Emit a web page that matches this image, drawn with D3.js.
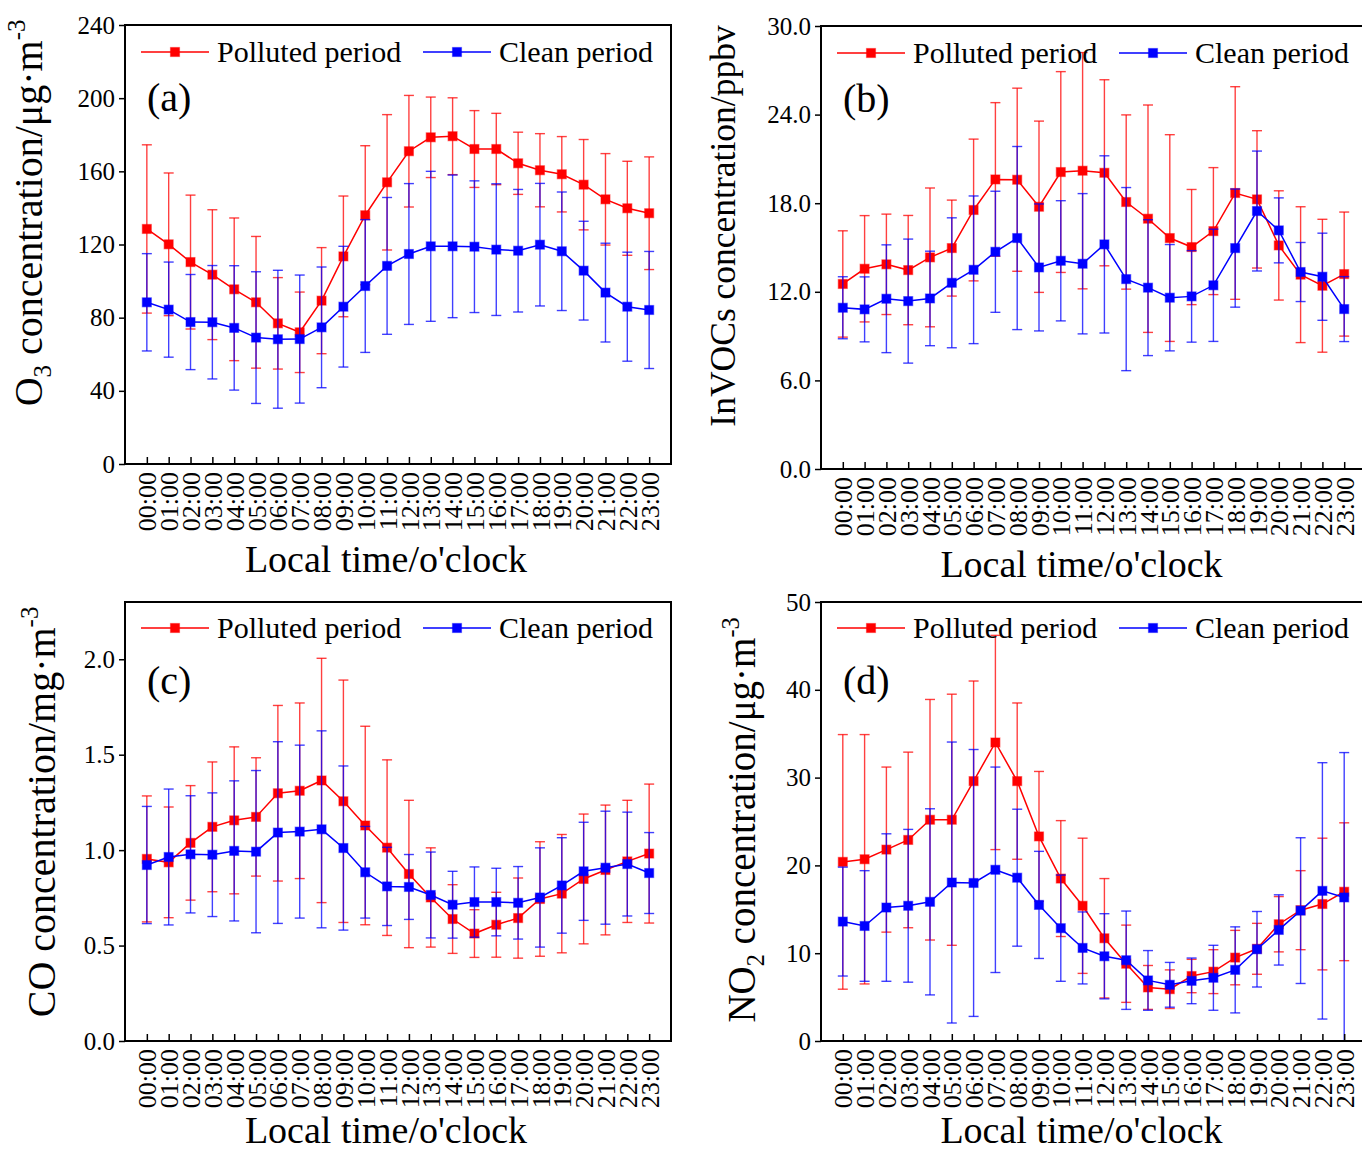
<!DOCTYPE html>
<html>
<head>
<meta charset="utf-8">
<script src="https://cdn.jsdelivr.net/npm/d3@7"></script>
<style>
  body { margin: 0; background: #fff; }
  svg { display: block; font-family: "Liberation Serif", "Times New Roman", serif; }
  svg text { font-family: "Liberation Serif", "Times New Roman", serif; }
</style>
</head>
<body>
<svg id="chart" width="1362" height="1152"></svg>
<script>
// hour labels along x
var hours = ["00:00","01:00","02:00","03:00","04:00","05:00","06:00","07:00","08:00","09:00","10:00","11:00",
             "12:00","13:00","14:00","15:00","16:00","17:00","18:00","19:00","20:00","21:00","22:00","23:00"];
var seriesNames = ["Polluted period", "Clean period"];

// (a) O3, ug/m3  (mean, std)
var o3Polluted   = [128.5,120.1,110.4,103.5,95.5,88.4,76.9,72.0,89.3,113.5,136.0,154.0,171.0,178.6,179.2,172.2,172.2,164.4,160.6,158.4,152.7,144.7,139.8,137.1];
var o3PollutedSd = [46,39,36.6,35.5,39,36,25,22,29,33,38,37,30.5,22,21,21,19.5,17,20,20.6,24.7,25,25.7,30.8];
var o3Clean      = [88.4,84.4,77.6,77.5,74.4,69.1,68.2,68.3,74.7,86.0,97.3,108.3,114.8,119.0,119.0,118.8,117.2,116.6,119.9,116.3,105.7,93.7,86.0,84.2];
var o3CleanSd    = [26.6,26,26,31,34,36,37.7,35,33,33,36.3,37.4,38.5,41,39,36,36,33.5,33.5,32.4,27,27,29.8,32];

// (b) InVOCs, ppbv
var vocPolluted   = [12.53,13.56,13.86,13.47,14.33,14.96,17.54,19.61,19.59,17.76,20.11,20.2,20.06,18.08,16.95,15.64,15.03,16.11,18.69,18.26,15.14,13.16,12.41,13.2];
var vocPollutedSd = [3.6,3.6,3.4,3.7,4.7,3.25,4.8,5.2,6.2,5.8,6.8,8,6.3,5.9,7.7,7,3.9,4.3,7.2,4.65,3.7,4.6,4.5,4.2];
var vocClean      = [10.92,10.81,11.53,11.37,11.55,12.61,13.49,14.71,15.64,13.65,14.1,13.9,15.21,12.86,12.28,11.6,11.69,12.44,14.96,17.47,16.16,13.34,13.02,10.83];
var vocCleanSd    = [2.1,2.2,3.65,4.2,3.2,4.4,5,4.1,6.2,4.3,4.07,4.75,6,6.2,4.6,3.6,3.1,3.8,4,4.06,2.2,2,2.95,2.2];

// (c) CO, mg/m3
var coPolluted   = [0.954,0.936,1.038,1.122,1.156,1.174,1.298,1.311,1.365,1.256,1.129,1.013,0.875,0.752,0.639,0.563,0.609,0.644,0.744,0.772,0.849,0.896,0.941,0.982];
var coPollutedSd = [0.33,0.29,0.3,0.34,0.385,0.31,0.46,0.46,0.64,0.635,0.52,0.46,0.386,0.26,0.18,0.125,0.17,0.21,0.3,0.31,0.34,0.34,0.32,0.364];
var coClean      = [0.922,0.964,0.978,0.976,0.996,0.992,1.092,1.097,1.109,1.011,0.884,0.81,0.807,0.765,0.714,0.728,0.728,0.724,0.752,0.815,0.889,0.908,0.927,0.88];
var coCleanSd    = [0.307,0.356,0.307,0.324,0.367,0.425,0.476,0.453,0.516,0.43,0.24,0.205,0.17,0.225,0.175,0.184,0.177,0.19,0.26,0.25,0.257,0.296,0.272,0.212];

// (d) NO2, ug/m3
var no2Polluted   = [20.4,20.7,21.8,22.9,25.2,25.2,29.6,34.0,29.6,23.3,18.5,15.4,11.7,8.8,6.1,5.9,7.4,7.9,9.5,10.5,13.3,14.9,15.6,17.0];
var no2PollutedSd = [14.5,14.2,9.4,10,13.7,14.3,11.4,12.2,8.9,7.4,6.6,7.7,6.8,4.4,2.5,2.2,1.9,2.5,3.1,2.9,3.15,4.5,7.5,7.85];
var no2Clean      = [13.6,13.1,15.2,15.4,15.85,18.05,18.0,19.5,18.6,15.5,12.85,10.6,9.65,9.2,6.9,6.4,6.85,7.2,8.1,10.45,12.65,14.85,17.1,16.35];
var no2CleanSd    = [6.2,6.3,8.4,8.7,10.6,16,15.2,11.7,7.8,6.1,6.05,4.1,4.85,5.6,3.4,2.55,2.6,3.7,4.9,4.3,4,8.3,14.6,16.5];

// y tick values
var o3Ticks  = [0,40,80,120,160,200,240];
var vocTicks = [0,6,12,18,24,30];
var coTicks  = [0,0.5,1.0,1.5,2.0];
var no2Ticks = [0,10,20,30,40,50];

var colors = ["#ff0000", "#0000ff"];
var serif = '"Liberation Serif", "Times New Roman", serif';

var svg = d3.select("#chart");

var panels = [
  { label: "(a)", left: 125, top: 25, width: 546, height: 439, yMax: 240, ticks: o3Ticks, fmt: d3.format("d"),
    series: [[o3Polluted, o3PollutedSd], [o3Clean, o3CleanSd]],
    title: [["O"], ["3", "sub"], [" concentration/\u03bcg\u00b7m"], ["-3", "sup"]], titleSize: 40, titleX: -83, titleY: 213 },
  { label: "(b)", left: 821, top: 26, width: 545, height: 443, yMax: 30, ticks: vocTicks, fmt: d3.format(".1f"),
    series: [[vocPolluted, vocPollutedSd], [vocClean, vocCleanSd]],
    title: [["InVOCs concentration/ppbv"]], titleSize: 35.5, titleX: -86, titleY: 226 },
  { label: "(c)", left: 125, top: 602, width: 546, height: 439, yMax: 2.3, ticks: coTicks, fmt: d3.format(".1f"),
    series: [[coPolluted, coPollutedSd], [coClean, coCleanSd]],
    title: [["CO concentration/mg\u00b7m"], ["-3", "sup"]], titleSize: 40, titleX: -70, titleY: 812 },
  { label: "(d)", left: 821, top: 602, width: 545, height: 439, yMax: 50, ticks: no2Ticks, fmt: d3.format("d"),
    series: [[no2Polluted, no2PollutedSd], [no2Clean, no2CleanSd]],
    title: [["NO"], ["2", "sub"], [" concentration/\u03bcg\u00b7m"], ["-3", "sup"]], titleSize: 39, titleX: -66, titleY: 820 }
];

panels.forEach(drawPanel);

function drawPanel(p, idx) {
  var g = svg.append("g").attr("transform", "translate(" + p.left + "," + p.top + ")");

  var x = d3.scaleLinear().domain([-1, 24]).range([0, p.width]);
  var y = d3.scaleLinear().domain([0, p.yMax]).range([p.height, 0]);

  var clipId = "clip" + idx;
  g.append("clipPath").attr("id", clipId)
    .append("rect").attr("width", p.width).attr("height", p.height);

  var plot = g.append("g").attr("clip-path", "url(#" + clipId + ")");

  p.series.forEach(function(s, si) {
    var mean = s[0], sd = s[1], col = colors[si];
    var pts = mean.map(function(v, i) { return { i: i, v: v, sd: sd[i] }; });
    var sg = plot.append("g");

    // error bars
    var eb = sg.append("g").attr("stroke", col).attr("stroke-width", 1.4).attr("stroke-opacity", 0.75);
    eb.selectAll("line.v").data(pts).enter().append("line")
      .attr("x1", function(d) { return x(d.i); })
      .attr("x2", function(d) { return x(d.i); })
      .attr("y1", function(d) { return y(d.v - d.sd); })
      .attr("y2", function(d) { return y(d.v + d.sd); });
    [1, -1].forEach(function(sign) {
      eb.selectAll("line.c" + sign).data(pts).enter().append("line")
        .attr("x1", function(d) { return x(d.i) - 5; })
        .attr("x2", function(d) { return x(d.i) + 5; })
        .attr("y1", function(d) { return y(d.v + sign * d.sd); })
        .attr("y2", function(d) { return y(d.v + sign * d.sd); });
    });

    // line
    var line = d3.line().x(function(d) { return x(d.i); }).y(function(d) { return y(d.v); });
    sg.append("path").datum(pts)
      .attr("fill", "none").attr("stroke", col).attr("stroke-width", 1.5)
      .attr("d", line);

    // markers
    sg.selectAll("rect").data(pts).enter().append("rect")
      .attr("x", function(d) { return x(d.i) - 4.5; })
      .attr("y", function(d) { return y(d.v) - 4.5; })
      .attr("width", 9).attr("height", 9)
      .attr("fill", col)
      .attr("stroke", col).attr("stroke-opacity", 0.45).attr("stroke-width", 1.2);
  });

  // frame
  g.append("rect").attr("width", p.width).attr("height", p.height)
    .attr("fill", "none").attr("stroke", "#000").attr("stroke-width", 2);

  // y axis
  var ya = g.append("g")
    .call(d3.axisLeft(y).tickValues(p.ticks).tickFormat(p.fmt).tickSize(6).tickPadding(4));
  ya.attr("font-family", null).attr("font-size", null);
  ya.select(".domain").remove();
  ya.selectAll("line").attr("stroke-width", 1.5);
  ya.selectAll("text").style("font-family", serif).style("font-size", "25px").attr("fill", "#000");

  // x axis, ticks inward and labels rotated
  var xa = g.append("g").attr("transform", "translate(0," + p.height + ")")
    .call(d3.axisBottom(x).tickValues(d3.range(hours.length)).tickFormat(function(i) { return hours[i]; }).tickSize(-7));
  xa.attr("font-family", null).attr("font-size", null);
  xa.select(".domain").remove();
  xa.selectAll("line").attr("stroke-width", 1.5);
  xa.selectAll("text")
    .style("font-family", serif).style("font-size", "26px").attr("fill", "#000")
    .attr("transform", "rotate(-90)")
    .attr("text-anchor", "end")
    .attr("x", -8).attr("y", 0).attr("dy", "0.35em");

  // x title
  g.append("text")
    .attr("x", p.width / 2 - 12).attr("y", idx < 2 ? p.height + 108 : p.height + 102)
    .attr("text-anchor", "middle").style("font-size", "38px")
    .text("Local time/o'clock");

  // y title with sub/superscripts
  var fs = p.titleSize;
  var yt = svg.append("text")
    .attr("transform", "translate(" + (p.left + p.titleX) + "," + p.titleY + ") rotate(-90)")
    .attr("text-anchor", "middle").style("font-size", fs + "px");
  var shift = 0;
  p.title.forEach(function(part) {
    var t = yt.append("tspan").text(part[0]);
    var target = part[1] === "sub" ? 0.22 * fs : part[1] === "sup" ? -0.42 * fs : 0;
    if (part[1]) t.style("font-size", (fs * 0.62) + "px");
    t.attr("dy", target - shift);
    shift = target;
  });

  // panel label
  g.append("text").attr("x", 22).attr("y", idx < 2 ? 86 : 92)
    .style("font-size", "40px").text(p.label);

  // legend
  var legX = [16, 298];
  seriesNames.forEach(function(name, si) {
    var lg = g.append("g").attr("transform", "translate(" + legX[si] + "," + (idx < 2 ? 27 : 26) + ")");
    lg.append("line").attr("x1", 0).attr("x2", 68).attr("y1", 0).attr("y2", 0)
      .attr("stroke", colors[si]).attr("stroke-width", 1.5);
    lg.append("rect").attr("x", 34 - 4.5).attr("y", -4.5).attr("width", 9).attr("height", 9)
      .attr("fill", colors[si]).attr("stroke", colors[si]).attr("stroke-opacity", 0.45).attr("stroke-width", 1.2);
    lg.append("text").attr("x", 76).attr("y", 10).style("font-size", "30px").text(name);
  });
}
</script>
</body>
</html>
